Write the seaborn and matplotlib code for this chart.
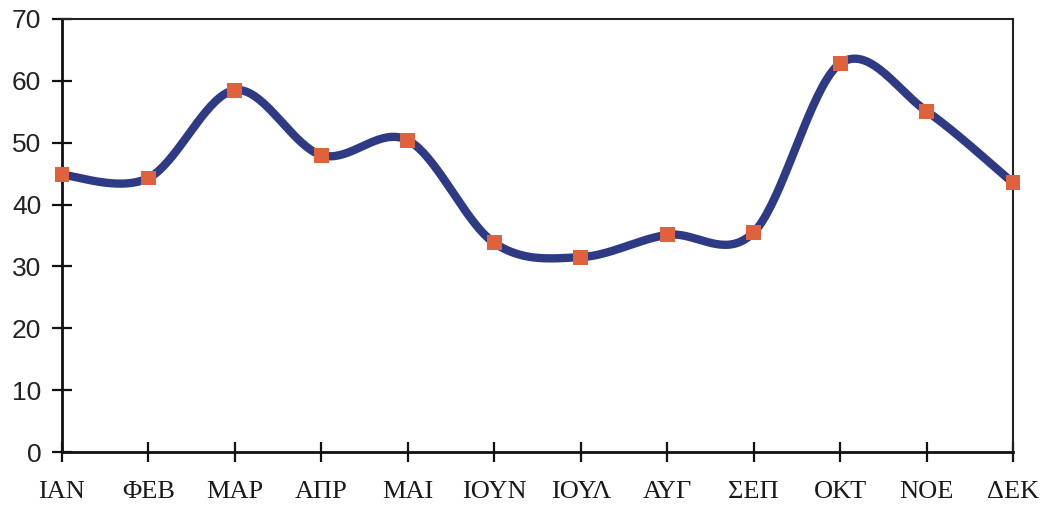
import numpy as np
import pandas as pd
import matplotlib
matplotlib.use("Agg")
import matplotlib.pyplot as plt
import seaborn as sns

months = ["ΙΑΝ", "ΦΕΒ", "ΜΑΡ", "ΑΠΡ", "ΜΑΙ", "ΙΟΥΝ", "ΙΟΥΛ", "ΑΥΓ", "ΣΕΠ", "ΟΚΤ", "ΝΟΕ", "ΔΕΚ"]
values = [44.8, 44.3, 58.5, 48.0, 50.4, 33.8, 31.5, 35.1, 35.5, 62.8, 55.1, 43.5]
y_ticks = [0, 10, 20, 30, 40, 50, 60, 70]

sns.set_theme(style="white")
plt.rcParams['font.family'] = ['Liberation Sans', 'DejaVu Sans']

fig = plt.figure(figsize=(10.48, 5.07), dpi=100)
ax = fig.add_axes([62/1048, 55/507, (1013-62)/1048, (452-19)/507])

# smoothed curve (Excel-like bezier through points)
x = np.arange(len(values), dtype=float)
y = np.array(values, dtype=float)
P = np.column_stack([x, y])
n = len(P)
curve = []
t = np.linspace(0, 1, 40)
for i in range(n - 1):
    p0 = P[i - 1] if i > 0 else P[i]
    p1 = P[i]
    p2 = P[i + 1]
    p3 = P[i + 2] if i + 2 < n else P[i + 1]
    b1 = p1 + (p2 - p0) / 6.0
    b2 = p2 - (p3 - p1) / 6.0
    seg = ((1 - t)[:, None] ** 3 * p1 + 3 * ((1 - t) ** 2 * t)[:, None] * b1
           + 3 * ((1 - t) * t ** 2)[:, None] * b2 + (t ** 3)[:, None] * p2)
    curve.append(seg if i == 0 else seg[1:])
curve = np.vstack(curve)
cdf = pd.DataFrame({"x": curve[:, 0], "y": curve[:, 1]})

sns.lineplot(data=cdf, x="x", y="y", sort=False, ax=ax, color="#2F3A84",
             linewidth=6.0, solid_capstyle="round", zorder=2)
df = pd.DataFrame({"x": x, "y": y})
sns.scatterplot(data=df, x="x", y="y", ax=ax, marker="s", s=115,
                color="#E0623C", edgecolor="none", zorder=3, clip_on=False)

ax.set_xlim(0, 11)
ax.set_ylim(0, 70)
ax.set_xticks(x)
ax.set_xticklabels(months, family=['Liberation Serif', 'DejaVu Serif'], fontsize=19, color="#1a1a1a")
ax.set_yticks(y_ticks)
ax.set_yticklabels([str(v) for v in y_ticks], fontsize=19, color="#222222")
ax.set_xlabel("")
ax.set_ylabel("")
ax.tick_params(axis="both", direction="inout", length=14, width=1.6, color="#111111")
ax.tick_params(axis="x", pad=14)
ax.tick_params(axis="y", pad=8)
ax.yaxis.set_ticks_position("left")
ax.xaxis.set_ticks_position("bottom")
for s in ["left", "bottom"]:
    ax.spines[s].set_linewidth(2.0)
    ax.spines[s].set_color("#111111")
for s in ["top", "right"]:
    ax.spines[s].set_linewidth(1.5)
    ax.spines[s].set_color("#222222")
ax.grid(False)

fig.savefig("out.png", dpi=100, facecolor="white")
